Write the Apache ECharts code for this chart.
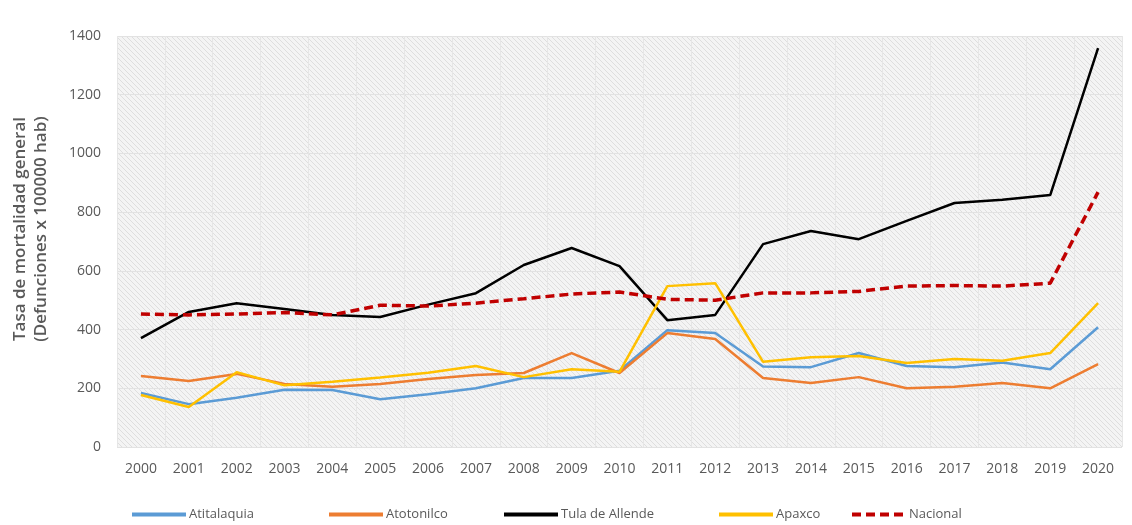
<!DOCTYPE html>
<html><head><meta charset="utf-8">
<script src="https://cdn.jsdelivr.net/npm/echarts@6/dist/echarts.min.js"></script>
<style>html,body{margin:0;padding:0;background:#fff}#c{width:1132px;height:525px}</style>
</head><body><div id="c"></div>
<script>
const years = ['2000','2001','2002','2003','2004','2005','2006','2007','2008','2009','2010','2011','2012','2013','2014','2015','2016','2017','2018','2019','2020'];
const atitalaquia = [184,146,168,195,194,163,180,200,235,235,260,398,388,274,272,320,276,272,288,265,408];
const atotonilco = [242,225,249,215,205,215,232,245,252,320,252,388,368,235,218,238,200,205,218,200,282];
const tula = [371,460,490,470,450,443,485,524,620,678,616,432,450,691,736,708,770,831,842,858,1359];
const apaxco = [177,136,255,210,222,237,253,276,238,265,256,548,558,290,306,310,286,300,294,320,490];
const nacional = [453,450,453,458,450,483,480,490,505,521,528,503,500,525,525,530,548,550,548,558,868];
const yTicks = [0,200,400,600,800,1000,1200,1400];
const yTitle = ['Tasa de mortalidad general', '(Defunciones x 100000 hab)'];

const pc = document.createElement('canvas');
pc.width = 5; pc.height = 5;
const g = pc.getContext('2d');
g.fillStyle = '#f4f4f4'; g.fillRect(0,0,5,5);
g.strokeStyle = '#dedede'; g.lineWidth = 1;
g.beginPath(); g.moveTo(0,0); g.lineTo(5,5); g.moveTo(-1,4); g.lineTo(1,6); g.moveTo(4,-1); g.lineTo(6,1); g.stroke();

const font = 'Open Sans';
const mk = (name, data, color, w, type) => ({
  name, type: 'line', data, symbol: 'none', smooth: false,
  lineStyle: {color, width: w, type: type || 'solid'}, itemStyle: {color}
});
const legendPos = [{n:'Atitalaquia',x:125},{n:'Atotonilco',x:322},{n:'Tula de Allende',x:497},{n:'Apaxco',x:712},{n:'Nacional',x:845}];
const chart = echarts.init(document.getElementById('c'));
chart.setOption({
  animation: false,
  grid: {left: 117, right: 10, top: 36, bottom: 78, show: true, backgroundColor: {image: pc, repeat: 'repeat'}, borderWidth: 0},
  graphic: [{type: 'text', rotation: Math.PI / 2, x: 31, y: 229,
    style: {text: yTitle.join('\n'), fontFamily: font, fontSize: 17, fontWeight: 600, fill: '#595959',
      lineHeight: 21, align: 'center', verticalAlign: 'middle'}}],
  legend: legendPos.map(l => ({data: [l.n], left: l.x, top: 503, itemWidth: 54, itemHeight: 4, itemGap: 0,
    itemStyle: {opacity: 0}, lineStyle: {width: 4},
    textStyle: {fontFamily: font, fontSize: 13, color: '#595959', padding: [0,0,0,-2]}})),
  xAxis: {type: 'category', data: years, boundaryGap: true,
    axisLine: {show: false}, axisTick: {show: false},
    axisLabel: {fontFamily: font, fontSize: 14, color: '#595959', margin: 15, interval: 0},
    splitLine: {show: true, interval: 0, lineStyle: {color: '#e6e6e6', width: 1}}},
  yAxis: {type: 'value', min: 0, max: 1400, interval: 200,
    axisLine: {show: false}, axisTick: {show: false},
    axisLabel: {fontFamily: font, fontSize: 14, color: '#595959', margin: 16, formatter: v => yTicks.includes(v) ? String(v) : ''},
    splitLine: {show: true, lineStyle: {color: '#e2e2e2', width: 1}}},
  series: [
    mk('Atitalaquia', atitalaquia, '#5B9BD5', 2.5),
    mk('Atotonilco', atotonilco, '#ED7D31', 2.5),
    mk('Tula de Allende', tula, '#000000', 2.5),
    mk('Apaxco', apaxco, '#FFC000', 2.5),
    mk('Nacional', nacional, '#C00000', 3.5, [9,5])
  ]
});
</script></body></html>
